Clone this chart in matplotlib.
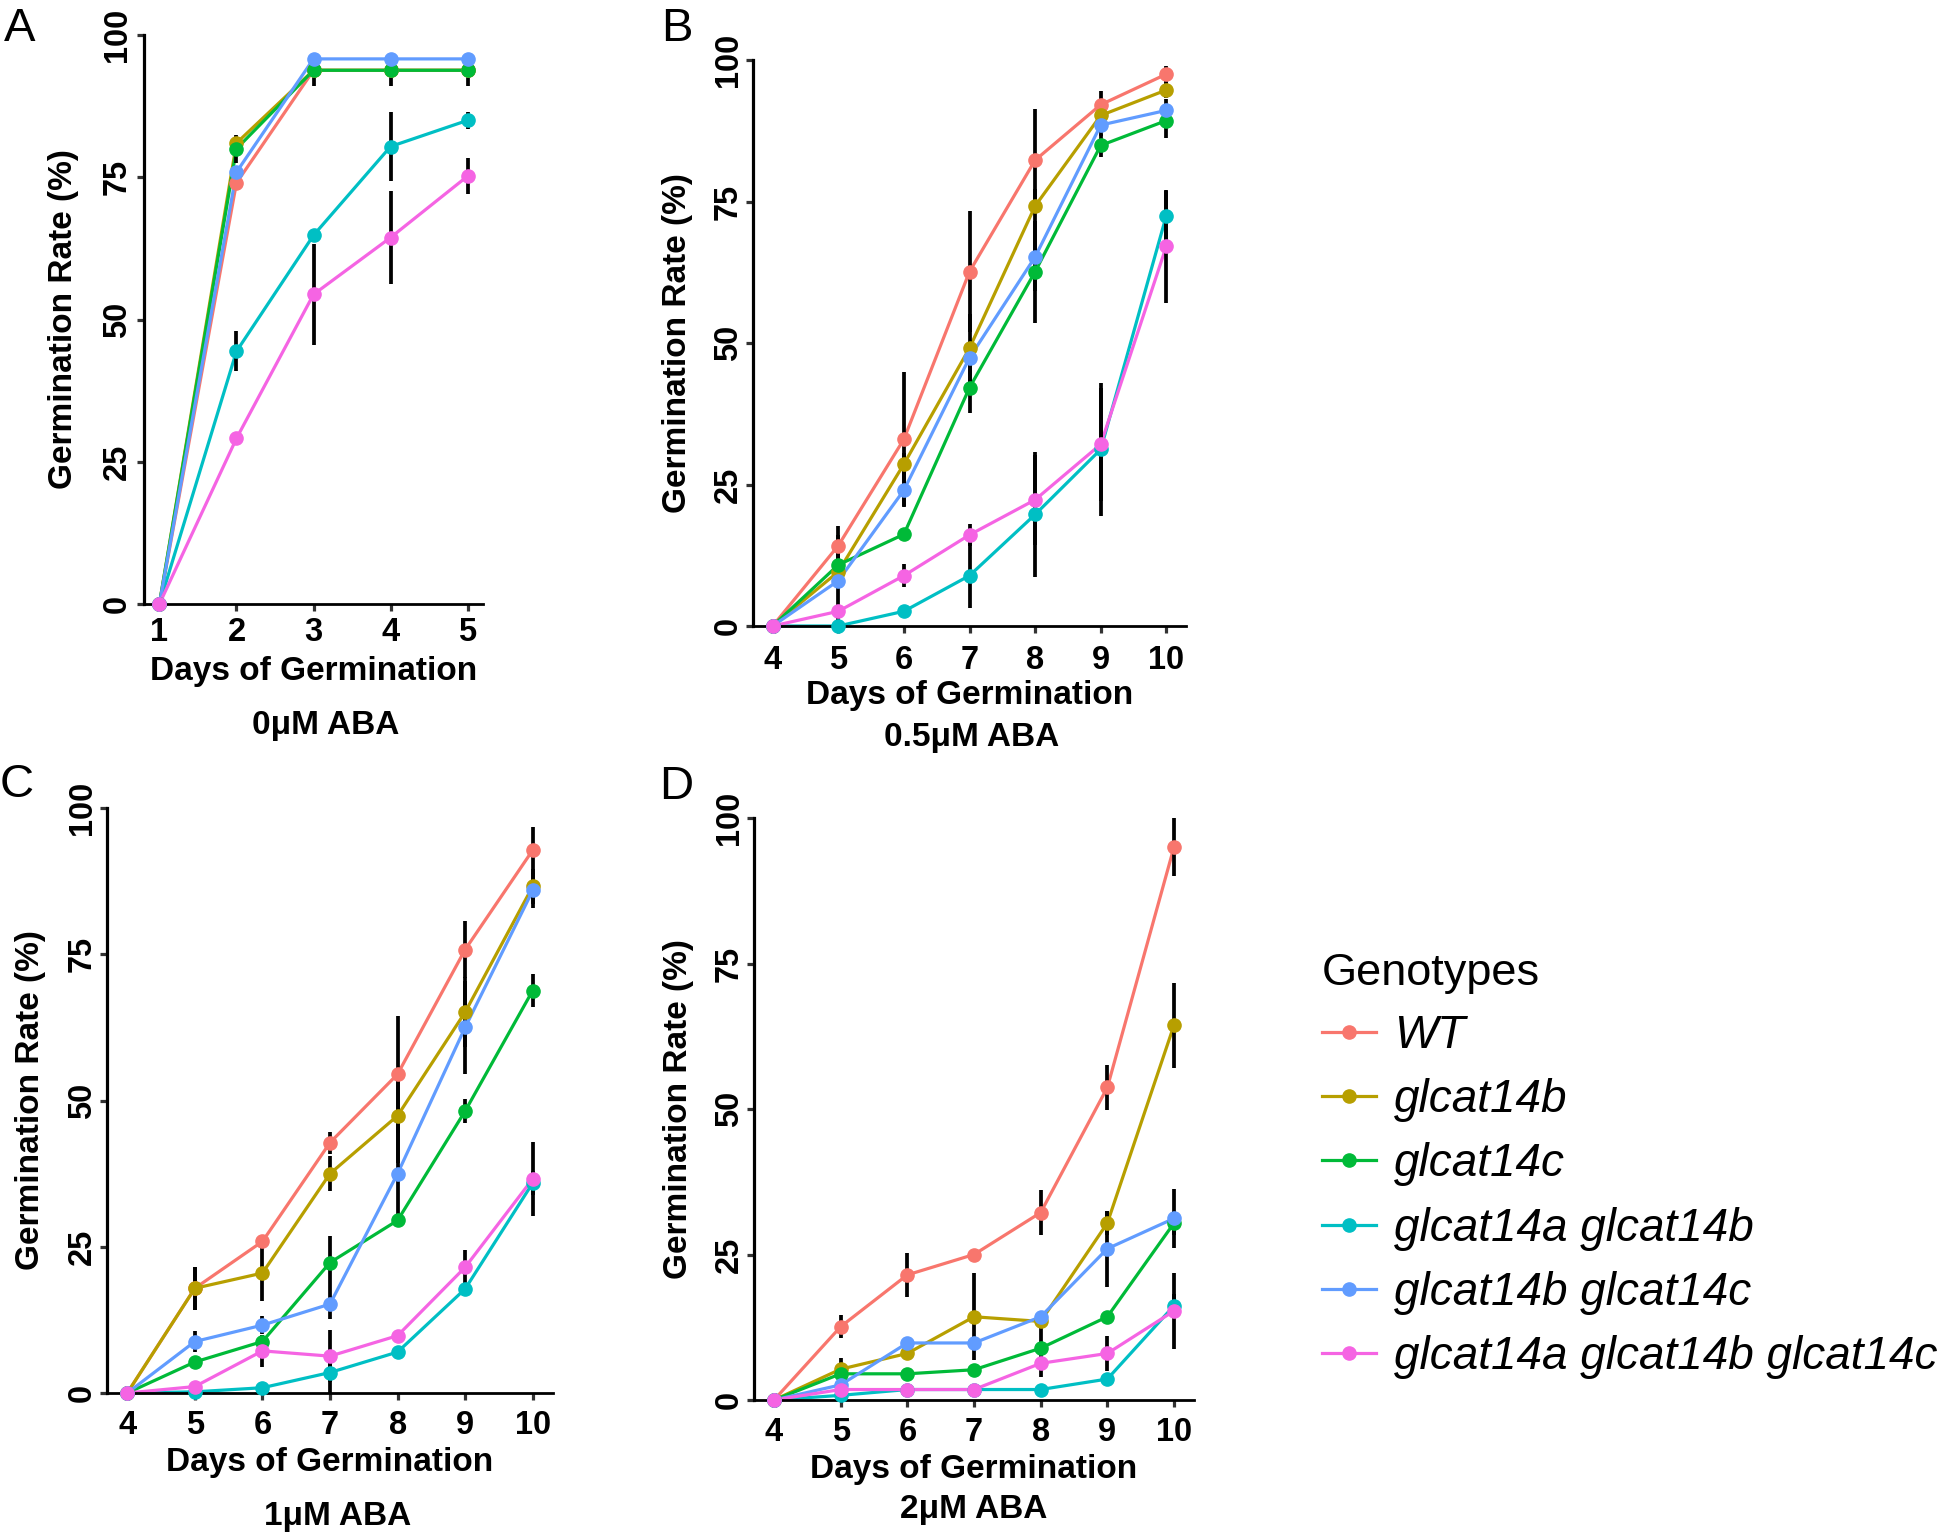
import matplotlib
matplotlib.use("Agg")
import matplotlib.pyplot as plt
from matplotlib.lines import Line2D

plt.rcParams['font.family'] = ['Liberation Sans', 'DejaVu Sans']

genotypes = ["WT", "glcat14b", "glcat14c", "glcat14a glcat14b",
             "glcat14b glcat14c", "glcat14a glcat14b glcat14c"]
colours = ["#F8766D", "#B79F00", "#00BA38", "#00BFC4", "#619CFF", "#F564E3"]
conditions = ["0\u03bcM ABA", "0.5\u03bcM ABA", "1\u03bcM ABA", "2\u03bcM ABA"]
letters = ["A", "B", "C", "D"]

days_a = [1, 2, 3, 4, 5]
days_long = [4, 5, 6, 7, 8, 9, 10]

# germination rate (%), one row per genotype
rate_a = [[0, 74.0, 93.8, 93.8, 93.8],
          [0, 81.0, 93.8, 93.8, 93.8],
          [0, 80.0, 93.8, 93.8, 93.8],
          [0, 44.4, 64.8, 80.4, 85.0],
          [0, 75.9, 95.8, 95.8, 95.8],
          [0, 29.1, 54.4, 64.4, 75.2]]
err_a = [[0, 0, 2.8, 2.8, 2.8],
         [0, 0.8, 0, 0, 0],
         [0, 2.5, 0, 0, 0],
         [0, 3.5, 1, 6, 1.5],
         [0, 0, 0, 0, 0],
         [0, 0, 8.8, 8.1, 3.2]]

rate_b = [[0, 14.2, 33.0, 62.6, 82.3, 92.1, 97.5],
          [0, 9.6, 28.6, 49.1, 74.2, 90.2, 94.7],
          [0, 10.8, 16.2, 42.1, 62.6, 84.9, 89.3],
          [0, 0, 2.6, 8.9, 19.7, 31.2, 72.5],
          [0, 8.0, 24.0, 47.4, 65.2, 88.5, 91.1],
          [0, 2.6, 8.9, 16.1, 22.3, 32.1, 67.1]]
err_b = [[0, 3.5, 11.8, 10.7, 9, 2.5, 1.5],
         [0, 2, 2, 6, 3, 2, 1.5],
         [0, 2, 1, 4.5, 9, 2, 3],
         [0, 0, 1, 5.7, 11, 11.7, 4.3],
         [0, 8, 3, 3, 6, 2, 2],
         [0, 1, 2, 2, 8, 10, 10]]

rate_c = [[0, 17.9, 25.9, 42.8, 54.5, 75.8, 92.8],
          [0, 17.9, 20.5, 37.5, 47.4, 65.1, 86.6],
          [0, 5.3, 8.8, 22.3, 29.5, 48.2, 68.8],
          [0, 0.2, 0.9, 3.5, 7.0, 17.8, 35.9],
          [0, 8.8, 11.6, 15.2, 37.5, 62.5, 85.9],
          [0, 1.1, 7.2, 6.3, 9.8, 21.5, 36.6]]
err_c = [[0, 3.7, 1, 1.9, 10, 4.8, 4],
         [0, 3.7, 4.8, 3, 8, 6, 3],
         [0, 1, 1, 4.5, 1, 2, 2.8],
         [0, 0, 0.5, 3.5, 1, 1, 2],
         [0, 1.8, 1.5, 2.5, 8, 8, 3],
         [0, 0.5, 2.8, 4.5, 1, 3, 6.3]]

rate_d = [[0, 12.6, 21.5, 25.0, 32.2, 53.7, 95.0],
          [0, 5.3, 8.0, 14.3, 13.5, 30.4, 64.4],
          [0, 4.5, 4.5, 5.2, 8.9, 14.3, 30.4],
          [0, 0.8, 1.8, 1.8, 1.8, 3.6, 16.2],
          [0, 2.6, 9.8, 9.8, 14.3, 26.0, 31.2],
          [0, 1.8, 1.8, 1.8, 6.3, 8.0, 15.3]]
err_d = [[0, 2, 3.8, 0.5, 3.8, 3.8, 5],
         [0, 2, 1, 7.5, 1, 2, 7.3],
         [0, 1, 1, 1, 5, 1, 2],
         [0, 0.5, 1, 1, 1, 1, 2],
         [0, 1, 1, 1, 1, 6.5, 5],
         [0, 1, 1, 1, 1, 3, 6.5]]

W, H = 1943, 1532
fig = plt.figure(figsize=(W / 100, H / 100), dpi=100)

# pixel boxes of each panel: left, top, right, bottom
boxes = [(144, 35, 483, 604), (753, 60, 1186, 626),
         (107, 808, 553, 1393), (754, 818, 1194, 1400)]
xtick_pad = [4.3, 8.4, 7.2, 7.2]
ytick_pad = [3.2, 1.8, 1.8, 1.8]
ylab_off = [-80, -75.5, -76.5, -76]
xlab_off = [52, 54, 54, 54]
sub_off = [106, 96, 108, 94]
sub_dx = [12, 2, 8, 0]
letter_pos = [(20, 41), (677, 41), (17, 797), (676, 799)]

panels = [(days_a, rate_a, err_a), (days_long, rate_b, err_b),
          (days_long, rate_c, err_c), (days_long, rate_d, err_d)]

for i, (days, rates, errs) in enumerate(panels):
    l, t, r, b = boxes[i]
    w_px, h_px = r - l, b - t
    ax = fig.add_axes([l / W, 1 - b / H, w_px / W, h_px / H])

    for g in range(len(genotypes)):
        ax.plot(days, rates[g], color=colours[g], lw=2.3, zorder=2, clip_on=False)
        lo = [m - e for m, e in zip(rates[g], errs[g])]
        hi = [m + e for m, e in zip(rates[g], errs[g])]
        ax.vlines(days, lo, hi, colors='black', lw=2.7, zorder=2.5)
    for g in range(len(genotypes)):
        ax.plot(days, rates[g], 'o', color=colours[g], ms=9.5, zorder=3, clip_on=False)

    span = days[-1] - days[0]
    ax.set_xlim(days[0] - 0.05 * span, days[-1] + 0.05 * span)
    ax.set_ylim(0, 100)
    ax.set_xticks(days)
    ax.set_yticks([0, 25, 50, 75, 100])
    for side in ['top', 'right']:
        ax.spines[side].set_visible(False)
    ax.spines['left'].set_linewidth(2.3)
    ax.spines['bottom'].set_linewidth(2.0)
    ax.tick_params(axis='x', length=5, width=2.3, color='#333333', pad=xtick_pad[i], labelsize=23.5)
    ax.tick_params(axis='y', length=5, width=2.3, color='#333333', pad=ytick_pad[i], labelsize=23.5,
                   labelrotation=90)
    for lbl in ax.get_xticklabels():
        lbl.set_fontweight('bold')
    for lbl in ax.get_yticklabels():
        lbl.set_fontweight('bold')
        lbl.set_va('center')

    ax.set_xlabel("Days of Germination", fontsize=24, fontweight='bold')
    ax.xaxis.set_label_coords(0.5, -xlab_off[i] / h_px)
    ax.set_ylabel("Germination Rate (%)", fontsize=24, fontweight='bold')
    ax.yaxis.set_label_coords(ylab_off[i] / w_px, 0.5)
    ax.yaxis.label.set_va('center')

    ax.text(0.5 + sub_dx[i] / w_px, -sub_off[i] / h_px, conditions[i], transform=ax.transAxes,
            ha='center', va='top', fontsize=24, fontweight='bold')

    lx, ly = letter_pos[i]
    fig.text(lx / W, 1 - ly / H, letters[i], fontsize=34, ha='center', va='baseline')

handles = [Line2D([], [], color=c, lw=2.3, marker='o', ms=9.5) for c in colours]
fig.legend(handles, genotypes, loc='upper left', bbox_to_anchor=(1322 / W, 1 - 953 / H),
           frameon=False, title='Genotypes', prop=dict(style='italic', size=33),
           title_fontsize=32.5, alignment='left', handlelength=1.17, handletextpad=0.4,
           labelspacing=0.44, borderpad=0, borderaxespad=0)

fig.savefig("out.png", dpi=100)
